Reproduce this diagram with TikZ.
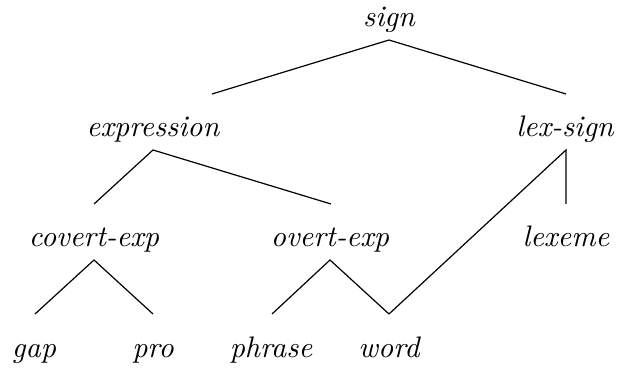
\documentclass[tikz,border=0pt]{standalone}
\begin{document}
\begin{tikzpicture}[x=0.35pt, y=-0.35pt,
  typ/.style={anchor=base, inner sep=0pt, font=\fontsize{10.4}{12}\selectfont\itshape},
  edge/.style={line width=0.42pt}]
\useasboundingbox (0,0) rectangle (617,368);

% type names
\node[typ] (sign)   at (389,27)  {sign};
\node[typ] (expr)   at (153,137) {expression};
\node[typ] (lexs)   at (565,137) {lex-sign};
\node[typ] (covert) at (94,247)  {covert-exp};
\node[typ] (overt)  at (330,247) {overt-exp};
\node[typ] (lexeme) at (566,247) {lexeme};
\node[typ] (gap)    at (34,358)  {gap};
\node[typ] (pro)    at (153,358) {pro};
\node[typ] (phrase) at (271,358) {phrase};
\node[typ] (word)   at (389,358) {word};

% branch points below each supertype
\coordinate (sign-b)   at (389,40);
\coordinate (expr-b)   at (153,150);
\coordinate (lexs-b)   at (566,150);
\coordinate (covert-b) at (94,260);
\coordinate (overt-b)  at (330,260);

% upper ends of the branches above each subtype
\coordinate (expr-t)   at (212,94);
\coordinate (lexs-t)   at (566,94);
\coordinate (covert-t) at (94,204);
\coordinate (overt-t)  at (331,204);
\coordinate (lexeme-t) at (566,204);
\coordinate (gap-t)    at (35,314);
\coordinate (pro-t)    at (153,314);
\coordinate (phrase-t) at (272,314);
\coordinate (word-t)   at (389,314);

\draw[edge] (expr-t) -- (sign-b) -- (lexs-t);
\draw[edge] (covert-t) -- (expr-b) -- (overt-t);
\draw[edge] (lexeme-t) -- (lexs-b) -- (word-t);
\draw[edge] (gap-t) -- (covert-b) -- (pro-t);
\draw[edge] (phrase-t) -- (overt-b) -- (word-t);
\end{tikzpicture}
\end{document}
